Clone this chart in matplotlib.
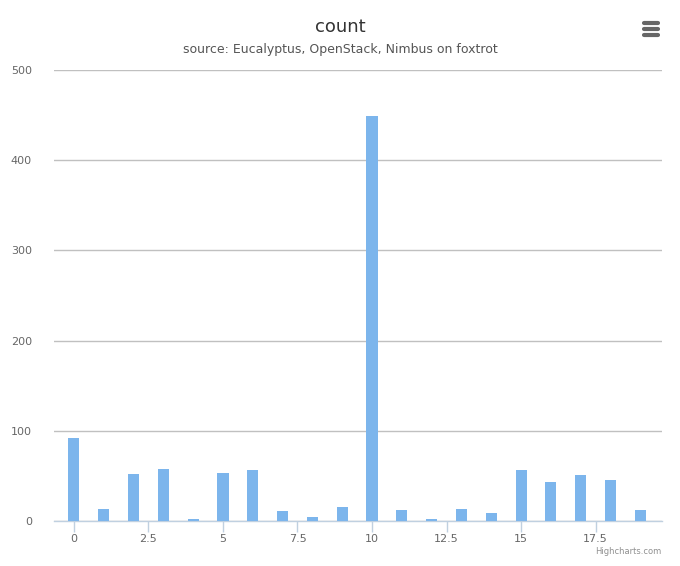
import matplotlib
matplotlib.use("Agg")
import matplotlib.pyplot as plt

# count per bucket
buckets = list(range(20))
counts = [92, 13, 52, 58, 2, 53, 56, 11, 4, 15, 449, 12, 2, 13, 9, 56, 43, 51, 45, 12]
x_ticks = [0, 2.5, 5, 7.5, 10, 12.5, 15, 17.5]
x_tick_labels = ["0", "2.5", "5", "7.5", "10", "12.5", "15", "17.5"]
y_ticks = [0, 100, 200, 300, 400, 500]

W, H = 680, 566
fig = plt.figure(figsize=(W / 100, H / 100), dpi=100)
ax = fig.add_axes([54 / W, 1 - 521 / H, (662 - 54) / W, (521 - 70) / H])

ax.bar(buckets, counts, width=0.37, color="#7cb5ec", zorder=3)

ax.set_xlim(-0.67, 19.73)
ax.set_ylim(0, 500)
ax.set_yticks(y_ticks)
ax.set_xticks(x_ticks)
ax.set_xticklabels(x_tick_labels)

ax.grid(axis="y", color="#c0c0c0", linewidth=1, zorder=0)
for s in ["top", "right", "left"]:
    ax.spines[s].set_visible(False)
ax.spines["bottom"].set_color("#c0d0e0")
ax.spines["bottom"].set_linewidth(1)
ax.tick_params(axis="x", colors="#c0d0e0", length=8, width=1, labelcolor="#666666", labelsize=8, pad=1)
ax.tick_params(axis="y", length=0, labelcolor="#666666", labelsize=8, pad=16)

fig.text(0.5, 1 - 27 / H, "count", ha="center", va="center", fontsize=13, color="#333333")
fig.text(0.5, 1 - 50 / H, "source: Eucalyptus, OpenStack, Nimbus on foxtrot",
         ha="center", va="center", fontsize=9, color="#555555")
fig.text(661 / W, 1 - 551 / H, "Highcharts.com", ha="right", va="center", fontsize=6, color="#909090")

# menu icon
for dy in (23, 29, 35):
    fig.add_artist(plt.Line2D([644 / W, 658 / W], [1 - dy / H, 1 - dy / H],
                              color="#666666", linewidth=3, solid_capstyle="round"))

fig.savefig("out.png", dpi=100)
